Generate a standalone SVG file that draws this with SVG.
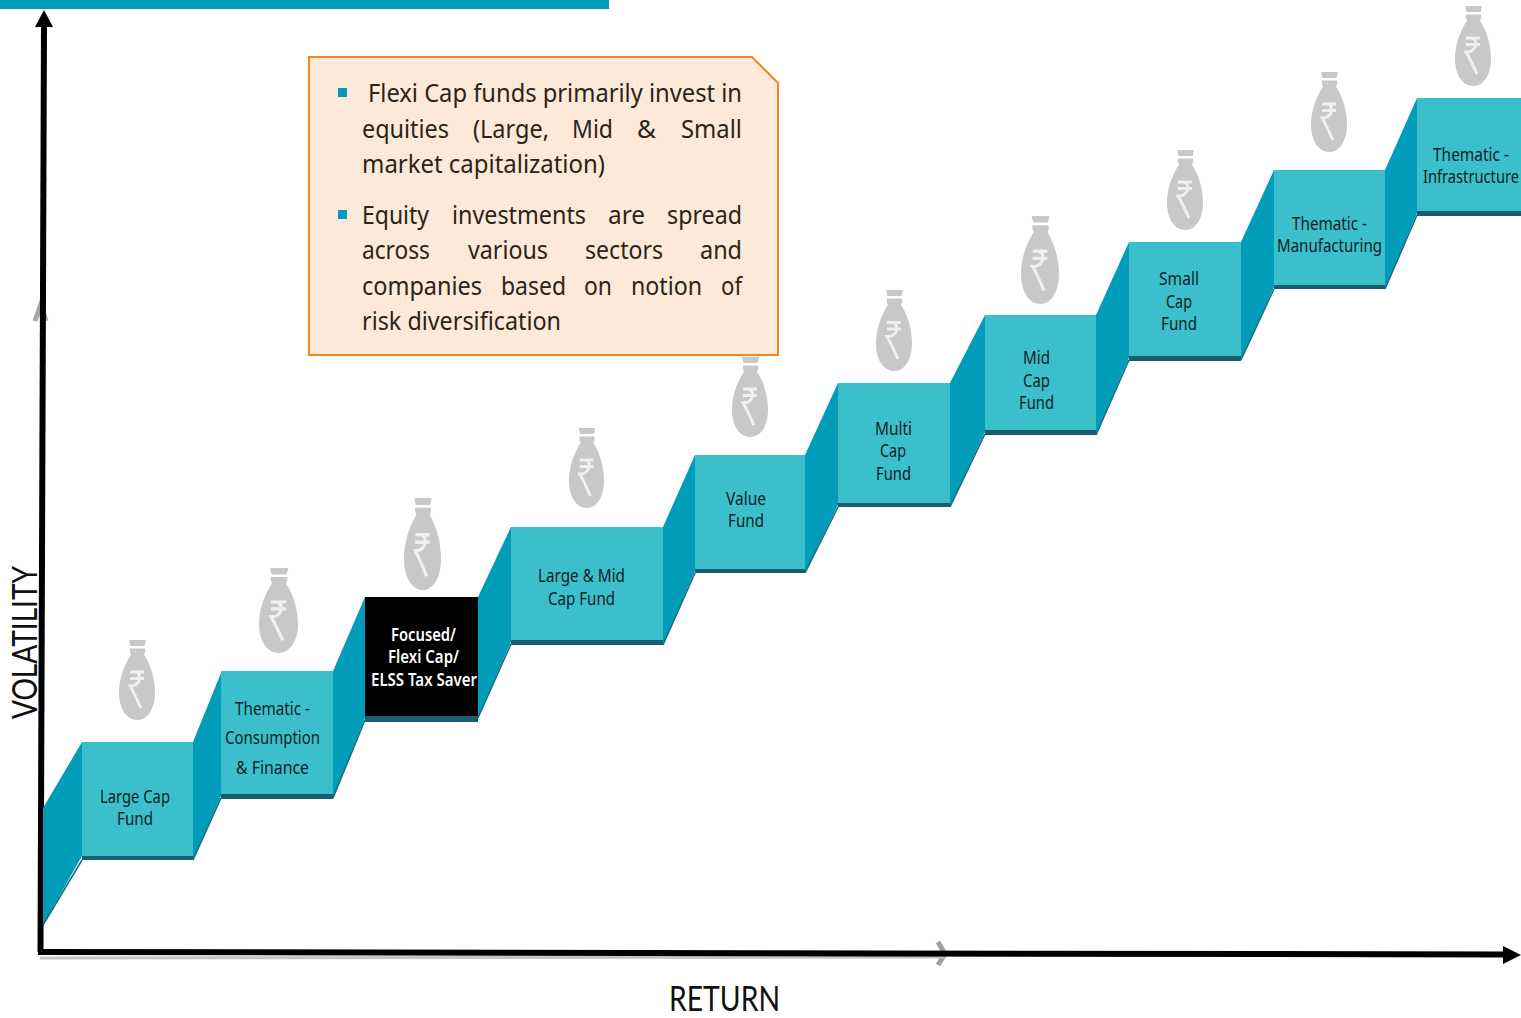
<svg xmlns="http://www.w3.org/2000/svg" xmlns:xlink="http://www.w3.org/1999/xlink" width="1521" height="1018" viewBox="0 0 1521 1018">
<style>
text{font-family:"Noto Sans","Open Sans","DejaVu Sans",sans-serif}
.side{fill:#009cb9}
.edge{fill:none;stroke:#17697c;stroke-width:1.5}
.face{fill:#3bbfcb}
.shade{fill:#185e70}
.lab{font-size:18px;fill:#0d1f24;text-anchor:start}
.inv{font-size:18px;fill:#fff;font-weight:600}
.p{font-size:26px;fill:#2a2516}
.ax{font-size:34px;fill:#111;font-family:"Lato","Liberation Sans",sans-serif;font-weight:400}
.bag{fill:#c8c8c8}
.rs{fill:none;stroke:#f0f0f0;stroke-width:3;stroke-linejoin:miter}
</style>
<defs>
<symbol id="moneybag" viewBox="0 0 36 80" preserveAspectRatio="none" overflow="visible">
<path class="bag" d="M10 0H27L25.5 6H11.5ZM11 8.5H26Q27 11.5 25 14.5C31 24 36 37 36 53C36 68 29 80 18.500 80C7 80 0 68 0 53C0 37 6 24 12 14.500Q10 11.500 11 8.500Z"/>
<path class="rs" d="M11 32H25M11 38.500H25M16 32C23 32 23 46 11 46C15 52 18 60 22 68"/>
</symbol>
</defs>
<rect x="0" y="0" width="609" height="9" fill="#009cb9"/>

<g id="connectors">
<path d="M35 321L41 304L46 321" fill="none" stroke="#a8a8a8" stroke-width="5"/>
<path d="M938 942L945 954L938 965" fill="none" stroke="#a0a0a0" stroke-width="5"/>
<path d="M40 958L945 957" stroke="#c4c4c4" stroke-width="3" fill="none"/>
<path d="M40.500 952L44 26" stroke="#000" stroke-width="6" fill="none"/>
<path d="M44 10L53 27H35Z" fill="#000"/>
<path d="M38 952L1505 954.500" stroke="#000" stroke-width="6" fill="none"/>
<path d="M1521 955L1503 946V964Z" fill="#000"/>
</g>

<g id="step-large-cap">
<polygon class="side" points="43,808 82,742 82,856 43,925"/><path class="edge" d="M82 860L43 925"/>
<rect class="shade" x="82" y="855" width="111" height="5"/><rect class="face" x="82" y="742" width="111" height="114"/>
<text class="lab" x="100" y="803" textLength="70" lengthAdjust="spacingAndGlyphs">Large Cap</text>
<text class="lab" x="117" y="825" textLength="36" lengthAdjust="spacingAndGlyphs">Fund</text>
<use xlink:href="#moneybag" href="#moneybag" x="119" y="640" width="36" height="80"/>
</g>
<g id="step-thematic-consumption">
<polygon class="side" points="193,742 221,673 221,796 193,860"/><path class="edge" d="M221 798L193 860"/>
<rect class="shade" x="221" y="793" width="112" height="6"/><rect class="face" x="221" y="671" width="112" height="123"/>
<text class="lab" x="235" y="715" textLength="75" lengthAdjust="spacingAndGlyphs">Thematic -</text>
<text class="lab" x="225" y="744" textLength="95" lengthAdjust="spacingAndGlyphs">Consumption</text>
<text class="lab" x="236" y="774" textLength="73" lengthAdjust="spacingAndGlyphs">&amp; Finance</text>
<use xlink:href="#moneybag" href="#moneybag" x="259" y="568" width="39" height="85"/>
</g>
<g id="step-focused">
<polygon class="side" points="333,671 365,597 365,718 333,798"/><path class="edge" d="M365 720L333 798"/>
<rect class="shade" x="365" y="715" width="113" height="7"/><rect x="365" y="597" width="113" height="119" fill="#000"/>
<text class="inv" x="391" y="641" textLength="65" lengthAdjust="spacingAndGlyphs">Focused/</text>
<text class="inv" x="388" y="663" textLength="71" lengthAdjust="spacingAndGlyphs">Flexi Cap/</text>
<text class="inv" x="371" y="686" textLength="106" lengthAdjust="spacingAndGlyphs">ELSS Tax Saver</text>
<use xlink:href="#moneybag" href="#moneybag" x="404" y="498" width="37" height="92"/>
</g>
<g id="step-large-mid">
<polygon class="side" points="478,597 511,527 511,642 478,718"/><path class="edge" d="M511 644L478 718"/>
<rect class="shade" x="511" y="639" width="152" height="6"/><rect class="face" x="511" y="527" width="152" height="113"/>
<text class="lab" x="538" y="582" textLength="87" lengthAdjust="spacingAndGlyphs">Large &amp; Mid</text>
<text class="lab" x="548" y="605" textLength="67" lengthAdjust="spacingAndGlyphs">Cap Fund</text>
<use xlink:href="#moneybag" href="#moneybag" x="569" y="428" width="35" height="80"/>
</g>
<g id="step-value">
<polygon class="side" points="663,527 695,455 695,571 663,645"/><path class="edge" d="M695 573L663 645"/>
<rect class="shade" x="695" y="568" width="110" height="5"/><rect class="face" x="695" y="455" width="110" height="114"/>
<text class="lab" x="726" y="505" textLength="40" lengthAdjust="spacingAndGlyphs">Value</text>
<text class="lab" x="728" y="527" textLength="36" lengthAdjust="spacingAndGlyphs">Fund</text>
<use xlink:href="#moneybag" href="#moneybag" x="732" y="357" width="36" height="80"/>
</g>
<g id="step-multi-cap">
<polygon class="side" points="805,455 838,383 838,505 805,573"/><path class="edge" d="M838 507L805 573"/>
<rect class="shade" x="838" y="502" width="112" height="5"/><rect class="face" x="838" y="383" width="112" height="120"/>
<text class="lab" x="875" y="435" textLength="37" lengthAdjust="spacingAndGlyphs">Multi</text>
<text class="lab" x="880" y="457" textLength="26" lengthAdjust="spacingAndGlyphs">Cap</text>
<text class="lab" x="876" y="480" textLength="35" lengthAdjust="spacingAndGlyphs">Fund</text>
<use xlink:href="#moneybag" href="#moneybag" x="876" y="290" width="36" height="81"/>
</g>
<g id="step-mid-cap">
<polygon class="side" points="950,383 985,315 985,432 950,507"/><path class="edge" d="M985 434L950 507"/>
<rect class="shade" x="985" y="429" width="111" height="6"/><rect class="face" x="985" y="315" width="111" height="115"/>
<text class="lab" x="1023" y="364" textLength="27" lengthAdjust="spacingAndGlyphs">Mid</text>
<text class="lab" x="1023" y="387" textLength="27" lengthAdjust="spacingAndGlyphs">Cap</text>
<text class="lab" x="1019" y="409" textLength="35" lengthAdjust="spacingAndGlyphs">Fund</text>
<use xlink:href="#moneybag" href="#moneybag" x="1021" y="216" width="38" height="88"/>
</g>
<g id="step-small-cap">
<polygon class="side" points="1096,315 1129,242 1129,358 1096,435"/><path class="edge" d="M1129 360L1096 435"/>
<rect class="shade" x="1129" y="355" width="112" height="6"/><rect class="face" x="1129" y="242" width="112" height="114"/>
<text class="lab" x="1159" y="285" textLength="40" lengthAdjust="spacingAndGlyphs">Small</text>
<text class="lab" x="1166" y="308" textLength="26" lengthAdjust="spacingAndGlyphs">Cap</text>
<text class="lab" x="1161" y="330" textLength="36" lengthAdjust="spacingAndGlyphs">Fund</text>
<use xlink:href="#moneybag" href="#moneybag" x="1167" y="150" width="36" height="80"/>
</g>
<g id="step-thematic-manufacturing">
<polygon class="side" points="1241,242 1274,170 1274,287 1241,360"/><path class="edge" d="M1274 289L1241 360"/>
<rect class="shade" x="1274" y="284" width="111" height="5"/><rect class="face" x="1274" y="170" width="111" height="115"/>
<text class="lab" x="1292" y="230" textLength="75" lengthAdjust="spacingAndGlyphs">Thematic -</text>
<text class="lab" x="1277" y="252" textLength="105" lengthAdjust="spacingAndGlyphs">Manufacturing</text>
<use xlink:href="#moneybag" href="#moneybag" x="1311" y="72" width="36" height="80"/>
</g>
<g id="step-thematic-infrastructure">
<polygon class="side" points="1385,170 1417,98 1417,213 1385,289"/><path class="edge" d="M1417 215L1385 289"/>
<rect class="shade" x="1417" y="210" width="104" height="6"/><rect class="face" x="1417" y="98" width="104" height="113"/>
<text class="lab" x="1433" y="161" textLength="76" lengthAdjust="spacingAndGlyphs">Thematic -</text>
<text class="lab" transform="translate(1423 183) scale(.8 1)" x="0" y="0" textLength="120" lengthAdjust="spacingAndGlyphs">Infrastructure</text>
<use xlink:href="#moneybag" href="#moneybag" x="1455" y="6" width="36" height="80"/>
</g>

<g id="info-panel">
<polygon points="309,57 752,57 778,83 778,355 309,355" fill="#fde9d9" stroke="#f7861c" stroke-width="2"/>
<rect x="338" y="88" width="9" height="9" fill="#009cb9"/>
<rect x="338" y="210" width="9" height="9" fill="#009cb9"/>
<text class="p" x="368" y="102" textLength="374" lengthAdjust="spacingAndGlyphs">Flexi Cap funds primarily invest in</text>
<text class="p" x="362" y="138" textLength="87" lengthAdjust="spacingAndGlyphs">equities</text>
<text class="p" x="473" y="138" textLength="76" lengthAdjust="spacingAndGlyphs">(Large,</text>
<text class="p" x="572" y="138" textLength="41" lengthAdjust="spacingAndGlyphs">Mid</text>
<text class="p" x="637" y="138" textLength="19" lengthAdjust="spacingAndGlyphs">&amp;</text>
<text class="p" x="681" y="138" textLength="61" lengthAdjust="spacingAndGlyphs">Small</text>
<text class="p" x="362" y="173" textLength="243" lengthAdjust="spacingAndGlyphs">market capitalization)</text>
<text class="p" x="362" y="224" textLength="67" lengthAdjust="spacingAndGlyphs">Equity</text>
<text class="p" x="452" y="224" textLength="134" lengthAdjust="spacingAndGlyphs">investments</text>
<text class="p" x="608" y="224" textLength="37" lengthAdjust="spacingAndGlyphs">are</text>
<text class="p" x="667" y="224" textLength="75" lengthAdjust="spacingAndGlyphs">spread</text>
<text class="p" x="362" y="259" textLength="68" lengthAdjust="spacingAndGlyphs">across</text>
<text class="p" x="468" y="259" textLength="80" lengthAdjust="spacingAndGlyphs">various</text>
<text class="p" x="585" y="259" textLength="78" lengthAdjust="spacingAndGlyphs">sectors</text>
<text class="p" x="700" y="259" textLength="42" lengthAdjust="spacingAndGlyphs">and</text>
<text class="p" x="362" y="295" textLength="120" lengthAdjust="spacingAndGlyphs">companies</text>
<text class="p" x="501" y="295" textLength="65" lengthAdjust="spacingAndGlyphs">based</text>
<text class="p" x="584" y="295" textLength="28" lengthAdjust="spacingAndGlyphs">on</text>
<text class="p" x="631" y="295" textLength="71" lengthAdjust="spacingAndGlyphs">notion</text>
<text class="p" x="721" y="295" textLength="21" lengthAdjust="spacingAndGlyphs">of</text>
<text class="p" x="362" y="330" textLength="199" lengthAdjust="spacingAndGlyphs">risk diversification</text>
</g>

<g id="axis-labels">
<text class="ax" transform="translate(37 719) rotate(-90)" x="0" y="0" textLength="153" lengthAdjust="spacingAndGlyphs">VOLATILITY</text>
<text class="ax" x="669" y="1011" textLength="111" lengthAdjust="spacingAndGlyphs">RETURN</text>
</g>
</svg>
